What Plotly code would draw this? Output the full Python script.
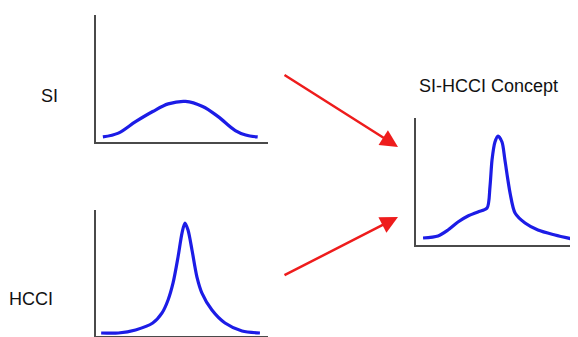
import plotly.graph_objects as go

# ---- data (x in 0-100 panel units, y in 0-100 panel units) ----
si_x = [4, 13, 23, 33, 42, 52, 62, 71, 81, 87, 94]
si_y = [4, 7, 16, 24, 30, 32, 28, 20, 9, 5.5, 4]

hcci_x = [3, 13, 23, 33, 38.4, 41.9, 44.8, 47.7, 50.0, 51.7, 53.5, 55.8, 58.7, 61.6, 67.4, 75.0, 84.9, 95.3]
hcci_y = [2.4, 2.4, 4.8, 10.3, 18.3, 28.6, 42.1, 62.7, 81.7, 89.7, 84.1, 68.3, 46.8, 34.1, 20.6, 10.3, 4.0, 2.4]

mix_x = [4.1, 12.8, 18.6, 24.4, 30.2, 36.0, 41.3, 43.0, 44.2, 45.9, 47.7, 50.0, 51.7, 54.7, 57.6, 63.4, 70.9, 80.8, 93.6]
mix_y = [5.5, 7.1, 11.8, 18.1, 22.8, 26.0, 29.1, 45.7, 66.9, 81.1, 85.8, 81.1, 66.9, 40.9, 25.2, 17.3, 11.8, 7.9, 3.9]

labels = ["SI", "HCCI", "SI-HCCI Concept"]

# page body has an 8px margin; figure is sized/positioned to compensate
OFF = 8
W, H = 578 - OFF, 337 - OFF

def px(x):
    return (x - OFF) / W

def py(y):
    return 1 - (y - OFF) / H

FONT = "Liberation Sans, Arial, sans-serif"
LINE = "#1c1ce6"
AXC = "#4a4a4a"

fig = go.Figure()
fig.add_trace(go.Scatter(x=si_x, y=si_y, mode="lines", line=dict(color=LINE, width=3.2, shape="spline"),
                         xaxis="x", yaxis="y", hoverinfo="skip"))
fig.add_trace(go.Scatter(x=hcci_x, y=hcci_y, mode="lines", line=dict(color=LINE, width=3.2, shape="spline", smoothing=0.8),
                         xaxis="x2", yaxis="y2", hoverinfo="skip"))
fig.add_trace(go.Scatter(x=mix_x, y=mix_y, mode="lines", line=dict(color=LINE, width=3.2, shape="spline", smoothing=0.8),
                         xaxis="x3", yaxis="y3", hoverinfo="skip"))

def ax(domain, rng, anchor):
    return dict(domain=domain, range=rng, anchor=anchor, showline=True, linecolor=AXC, linewidth=2,
                showgrid=False, zeroline=False, showticklabels=False, ticks="", fixedrange=True)

fig.update_layout(
    width=W, height=H, margin=dict(l=0, r=0, t=0, b=0),
    paper_bgcolor="white", plot_bgcolor="white", showlegend=False,
    xaxis=ax([px(96), px(268)], [0, 100], "y"),
    yaxis=ax([py(142), py(15)], [0, 100], "x"),
    xaxis2=ax([px(96), px(268)], [0, 100], "y2"),
    yaxis2=ax([py(336), py(210)], [0, 100], "x2"),
    xaxis3=ax([px(416), 1.0], [0, 162 / 172 * 100], "y3"),
    yaxis3=ax([py(245), py(118)], [0, 100], "x3"),
)

txt = dict(family=FONT, size=18, color="#111111")
fig.add_annotation(text=labels[0], xref="paper", yref="paper", x=px(49.5), y=py(96),
                   showarrow=False, font=txt, xanchor="center", yanchor="middle")
fig.add_annotation(text=labels[1], xref="paper", yref="paper", x=px(31), y=py(299),
                   showarrow=False, font=txt, xanchor="center", yanchor="middle")
fig.add_annotation(text=labels[2], xref="paper", yref="paper", x=px(488.5), y=py(86),
                   showarrow=False, font=txt, xanchor="center", yanchor="middle")

arrow = dict(showarrow=True, arrowhead=2, arrowsize=1.4, arrowwidth=2.5, arrowcolor="#ee1c1c", text="",
             xref="paper", yref="paper", axref="pixel", ayref="pixel")
fig.add_annotation(x=px(398), y=py(147), ax=-115, ay=-73, **arrow)
fig.add_annotation(x=px(398), y=py(217), ax=-115, ay=59, **arrow)

fig.write_html("out.html")
